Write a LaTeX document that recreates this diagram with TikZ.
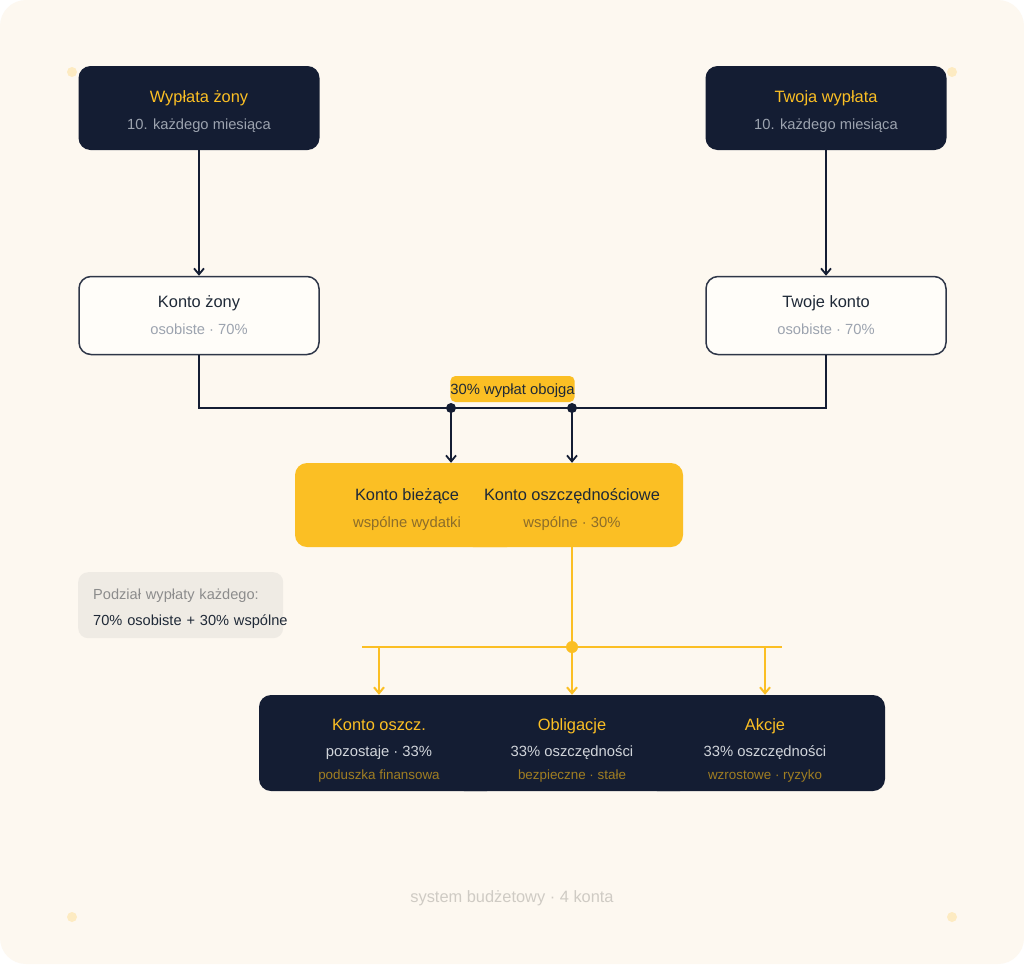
\documentclass[tikz,border=0pt]{standalone}
\usepackage{fontspec}
\setmainfont{Liberation Sans}
\usetikzlibrary{arrows.meta}
\definecolor{navy}{HTML}{141D33}
\definecolor{gold}{HTML}{FBBF24}
\definecolor{cream}{HTML}{FDF8F0}
\definecolor{paper}{HTML}{FFFDF9}
\definecolor{edge}{HTML}{2E3648}
\definecolor{ink}{HTML}{1F2937}
\definecolor{mute}{HTML}{9CA3AF}
\definecolor{light}{HTML}{D1D5DB}
\definecolor{brown}{HTML}{8C6D2A}
\definecolor{darkgold}{HTML}{A07E22}
\definecolor{notefill}{HTML}{EFEBE4}
\definecolor{notegrey}{HTML}{8C8C8C}
\definecolor{footgrey}{HTML}{CFCBC4}
\definecolor{dotcol}{HTML}{FDEBC2}

\begin{document}
\begin{tikzpicture}[x=1pt,y=-1pt,
  box/.style={rounded corners=12pt,inner sep=0pt,align=center,font=\fontsize{16.4}{27}\selectfont},
  paybox/.style={box,fill=navy,minimum width=241pt,minimum height=84pt},
  accbox/.style={box,draw=edge,line width=1.5pt,fill=paper,minimum width=240pt,minimum height=78pt},
  jointbox/.style={box,fill=gold,minimum height=84pt},
  investbox/.style={box,fill=navy,minimum width=240pt,minimum height=96pt,font=\fontsize{16.4}{25}\selectfont},
  link/.style={draw=navy,line width=1.8pt},
  arr/.style={link,-{Straight Barb[length=6pt,width=10pt]}},
  goldlink/.style={draw=gold,line width=2pt},
  goldarr/.style={goldlink,-{Straight Barb[length=6pt,width=10pt]}}]
\fill[white] (0,0) rectangle (1024,964);
\fill[cream,rounded corners=26pt] (0,0) rectangle (1024,964);
\foreach \x/\y in {72/72,952/72,72/917,952/917}
    \fill[dotcol] (\x,\y) circle (5pt);

\node[paybox] (wifepay) at (199,108) {\rule{0pt}{19pt}{\color{gold}Wypłata żony}\\{\fontsize{14.7}{27}\selectfont\color{mute}10. każdego miesiąca}};
\node[paybox] (mypay) at (826,108) {\rule{0pt}{19pt}{\color{gold}Twoja wypłata}\\{\fontsize{14.7}{27}\selectfont\color{mute}10. każdego miesiąca}};
\node[accbox] (wifeacc) at (199,315.5) {{\color{ink}Konto żony}\\{\fontsize{14.7}{27}\selectfont\color{mute}osobiste · 70\%}};
\node[accbox] (myacc) at (826,315.5) {{\color{ink}Twoje konto}\\{\fontsize{14.7}{27}\selectfont\color{mute}osobiste · 70\%}};

\node[jointbox,minimum width=224pt] (current) at (407,505) {\rule{0pt}{21pt}{\color{ink}Konto bieżące}\\{\fontsize{14.8}{27}\selectfont\color{brown}wspólne wydatki}};
\node[jointbox,minimum width=222pt] (savings) at (572,505) {\rule{0pt}{21pt}{\color{ink}Konto oszczędnościowe}\\{\fontsize{14.8}{27}\selectfont\color{brown}wspólne · 30\%}};

\node[fill=gold,rounded corners=5pt,minimum width=121pt,minimum height=26pt,inner sep=0pt,
  text height=10.5pt,text depth=0pt,font=\fontsize{14.8}{16}\selectfont,text=ink] (share) at (512.5,389) {30\% wypłat obojga};

\coordinate (jl) at (451,408);
\coordinate (jr) at (572,408);
\draw[link] (wifeacc.south) |- (jl) -- (jr) -| (myacc.south);
\draw[arr] (wifepay.south) -- (wifeacc.north);
\draw[arr] (mypay.south) -- (myacc.north);
\draw[arr] (jl) -- (jl |- current.north);
\draw[arr] (jr) -- (savings.north);
\fill[navy] (jl) circle (5pt);
\fill[navy] (jr) circle (5pt);

\node[investbox] (emerg) at (379,743) {\rule{0pt}{27pt}{\color{gold}Konto oszcz.}\\[1pt]{\fontsize{14.8}{25}\selectfont\color{light}pozostaje · 33\%}\\[-2pt]{\fontsize{13.4}{25}\selectfont\color{darkgold}poduszka finansowa}};
\node[investbox] (bonds) at (572,743) {\rule{0pt}{27pt}{\color{gold}Obligacje}\\[1pt]{\fontsize{14.8}{25}\selectfont\color{light}33\% oszczędności}\\[-2pt]{\fontsize{13.4}{25}\selectfont\color{darkgold}bezpieczne · stałe}};
\node[investbox] (stocks) at (765,743) {\rule{0pt}{27pt}{\color{gold}Akcje}\\[1pt]{\fontsize{14.8}{25}\selectfont\color{light}33\% oszczędności}\\[-2pt]{\fontsize{13.4}{25}\selectfont\color{darkgold}wzrostowe · ryzyko}};

\coordinate (yj) at (572,647);
\coordinate (yl) at (362,647);
\coordinate (yr) at (782,647);
\draw[goldlink] (savings.south) -- (yj);
\draw[goldlink] (yl) -- (yr);
\foreach \n in {emerg,bonds,stocks}
    \draw[goldarr] (yl -| \n.north) -- (\n.north);
\fill[gold] (yj) circle (6pt);

\node[anchor=north west,fill=notefill,rounded corners=10pt,minimum height=66pt,
  text width=175pt,inner xsep=15pt,inner ysep=0pt,align=left,
  font=\fontsize{14.6}{26}\selectfont] (note) at (78,572)
  {\rule{0pt}{17pt}\mbox{\color{notegrey}Podział wypłaty każdego:}\\\mbox{\color{ink}70\% osobiste + 30\% wspólne}};

\node[font=\fontsize{16.4}{18}\selectfont,text=footgrey] (foot) at (512,898) {system budżetowy · 4 konta};
\end{tikzpicture}
\end{document}
